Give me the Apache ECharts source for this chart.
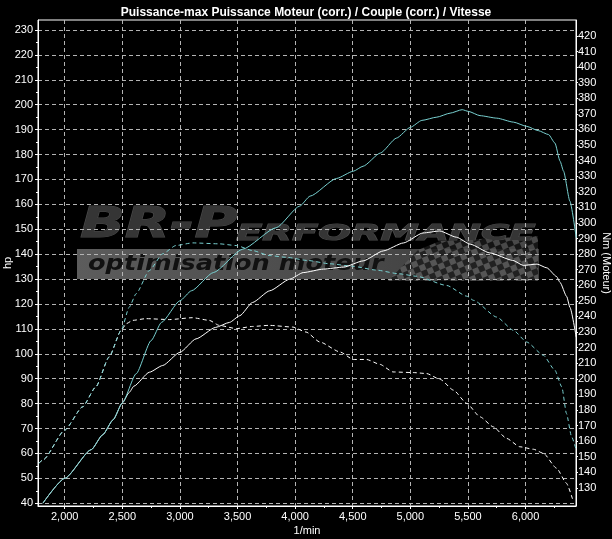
<!DOCTYPE html>
<html>
<head>
<meta charset="utf-8">
<script src="https://cdn.jsdelivr.net/npm/echarts@6/dist/echarts.min.js"></script>
<style>
  html, body { margin: 0; background: #000; }
  #chart { width: 612px; height: 539px; }
</style>
</head>
<body>
<div id="chart"></div>
<script>
// Tuned power (hp, left axis)
const powerTunedRpm = [1810, 2000, 2230, 2330, 2420, 2500, 2620, 2750, 2840, 3000, 3100, 3290, 3545, 3835, 4040, 4130, 4360, 4505, 4590, 4740, 4880, 5000, 5100, 5230, 5345, 5450, 5505, 5605, 5750, 5895, 6010, 6110, 6200, 6255, 6300, 6330, 6385, 6440];
const powerTunedHp = [40, 50, 61.5, 67.5, 73.5, 80.3, 92, 105.3, 112.6, 121.3, 125.3, 132.6, 142, 150.6, 159.3, 163.3, 170.4, 173.3, 175.3, 180.6, 186.6, 190.9, 193.7, 195, 196.6, 198, 197.3, 195.6, 194.6, 193, 191.3, 189.6, 188, 184.6, 177.3, 173.3, 161.3, 146.6];

// Stock power (hp, left axis)
const powerStockRpm = [1810, 2000, 2230, 2330, 2420, 2500, 2560, 2600, 2735, 2850, 3000, 3140, 3310, 3430, 3520, 3630, 3780, 3955, 4070, 4245, 4420, 4590, 4765, 4940, 5110, 5255, 5400, 5520, 5690, 5890, 5980, 6100, 6185, 6270, 6300, 6357, 6386, 6440];
const powerStockHp = [40, 50, 61.5, 67.5, 73.5, 80.3, 84.5, 87, 92.6, 95.3, 100.6, 106, 110.6, 112.6, 115.3, 120.6, 125.3, 130, 132.6, 134, 134.8, 137.3, 141.3, 144.5, 148.5, 149.3, 146.8, 144, 140.5, 137.5, 135.5, 136, 134.5, 131, 128.6, 123, 118.6, 106.6];

// Tuned torque (Nm, right axis)
const torqueTunedRpm = [1775, 1815, 2000, 2155, 2270, 2385, 2490, 2560, 2620, 2735, 2850, 2965, 3110, 3340, 3490, 3630, 3775, 3920, 4110, 4300, 4500, 4700, 4900, 5055, 5315, 5490, 5550, 5750, 5895, 6010, 6155, 6255, 6315, 6355, 6400, 6440];
const torqueTunedNm = [145.8, 148.2, 167.1, 182, 194.8, 214, 231.1, 246, 254.6, 269.5, 280.2, 285.5, 287.2, 286.6, 285.5, 282.3, 279.1, 278, 275.9, 273.8, 272.2, 269.8, 267.4, 265.8, 259.9, 253, 250.3, 239.6, 231.1, 223.6, 215.1, 205.5, 194.8, 177.8, 162.8, 154.3];

// Stock torque (Nm, right axis)
const torqueStockRpm = [1775, 1815, 2000, 2155, 2270, 2385, 2490, 2535, 2590, 2705, 2910, 3110, 3255, 3340, 3490, 3630, 3775, 3980, 4095, 4215, 4390, 4505, 4620, 4735, 4850, 5025, 5140, 5260, 5375, 5490, 5605, 5720, 5835, 5950, 6070, 6155, 6270, 6355, 6415];
const torqueStockNm = [145.8, 148.2, 167.1, 182, 194.8, 214, 231.1, 235.4, 237.5, 238.6, 238, 239.2, 237.5, 234.3, 232.2, 233.6, 234.3, 233.2, 230, 223.6, 217.2, 212.4, 212.4, 209.3, 204.4, 204, 203.4, 199.6, 192.7, 184.2, 175.6, 169.2, 161.8, 156.4, 154.8, 152.2, 142.6, 133, 121.2];

// Axis ticks
const rpmTicks = [2000, 2500, 3000, 3500, 4000, 4500, 5000, 5500, 6000];
const rpmMinorTicks = [2250, 2750, 3250, 3750, 4250, 4750, 5250, 5750, 6250];
const hpTicks = [40, 50, 60, 70, 80, 90, 100, 110, 120, 130, 140, 150, 160, 170, 180, 190, 200, 210, 220, 230];
const hpMinorTicks = [45, 55, 65, 75, 85, 95, 105, 115, 125, 135, 145, 155, 165, 175, 185, 195, 205, 215, 225];
const nmTicks = [130, 140, 150, 160, 170, 180, 190, 200, 210, 220, 230, 240, 250, 260, 270, 280, 290, 300, 310, 320, 330, 340, 350, 360, 370, 380, 390, 400, 410, 420];

const narrow = "'Liberation Sans Narrow', 'Liberation Sans', sans-serif";
const cyan = '#78d0d0';
const gridLine = { show: true, lineStyle: { color: '#b4b4b4', type: [4, 3], width: 1 } };

const toPairs = (xs, ys) => xs.map((x, i) => [x, ys[i]]);

// checkered flag pattern for the watermark
const checker = document.createElement('canvas');
checker.width = 12;
checker.height = 12;
const cctx = checker.getContext('2d');
cctx.fillStyle = '#5a5a5a';
cctx.fillRect(0, 0, 12, 12);
cctx.fillStyle = '#1a1a1a';
cctx.fillRect(0, 0, 6, 6);
cctx.fillRect(6, 6, 6, 6);

const chart = echarts.init(document.getElementById('chart'));

const lineSeries = (name, data, yIdx, color, dashed, z) => ({
  name: name,
  type: 'line',
  data: data,
  yAxisIndex: yIdx,
  symbol: 'none',
  smooth: 0.2,
  smoothMonotone: 'x',
  z: z,
  lineStyle: { color: color, width: 1, type: dashed ? [4, 3] : 'solid' }
});

chart.setOption({
  backgroundColor: '#000',
  animation: false,
  title: {
    text: 'Puissance-max Puissance Moteur (corr.) / Couple (corr.) / Vitesse',
    left: 'center',
    top: 2,
    textStyle: { color: '#fff', fontSize: 12, fontWeight: 'bold', fontFamily: narrow }
  },
  grid: {
    left: 38, right: 36, top: 20, bottom: 33,
    outerBoundsMode: 'none',
    containLabel: false,
    show: true, borderColor: '#fff', borderWidth: 1
  },
  xAxis: [
    {
      type: 'value',
      min: 1768,
      max: 6438,
      name: '1/min',
      nameLocation: 'middle',
      nameGap: 19,
      nameMoveOverlap: false,
      nameTextStyle: { color: '#fff', fontSize: 11, fontFamily: narrow },
      axisLine: { lineStyle: { color: '#fff' } },
      axisTick: { length: 3, lineStyle: { color: '#fff' }, customValues: rpmTicks },
      axisLabel: {
        color: '#fff', fontSize: 11, fontFamily: narrow, margin: 5,
        customValues: rpmTicks,
        formatter: (v) => v.toLocaleString('en-US')
      },
      splitLine: gridLine
    },
    {
      type: 'value',
      min: 1768,
      max: 6438,
      position: 'bottom',
      axisLine: { show: false },
      axisTick: { length: 2, lineStyle: { color: '#fff' }, customValues: rpmMinorTicks },
      axisLabel: { show: false },
      splitLine: { show: false }
    }
  ],
  yAxis: [
    {
      type: 'value',
      min: 38.9,
      max: 234,
      position: 'left',
      name: 'hp',
      nameLocation: 'middle',
      nameRotate: 90,
      nameGap: 25,
      nameMoveOverlap: false,
      nameTextStyle: { color: '#fff', fontSize: 11, fontFamily: narrow },
      axisLine: { show: true, lineStyle: { color: '#fff' } },
      axisTick: { show: true, length: 3, lineStyle: { color: '#fff' }, customValues: hpTicks },
      axisLabel: { color: '#fff', fontSize: 11, fontFamily: narrow, margin: 5, customValues: hpTicks },
      splitLine: gridLine
    },
    {
      type: 'value',
      min: 118.4,
      max: 430.2,
      position: 'right',
      name: 'Nm (Moteur)',
      nameLocation: 'middle',
      nameRotate: -90,
      nameGap: 25,
      nameMoveOverlap: false,
      nameTextStyle: { color: '#fff', fontSize: 11, fontFamily: narrow },
      axisLine: { show: true, lineStyle: { color: '#fff' } },
      axisTick: { show: true, length: 2, lineStyle: { color: '#fff' }, customValues: nmTicks },
      axisLabel: { color: '#fff', fontSize: 11, fontFamily: narrow, margin: 2, customValues: nmTicks },
      splitLine: { show: false }
    },
    {
      type: 'value',
      min: 38.9,
      max: 234,
      position: 'left',
      axisLine: { show: false },
      axisTick: { show: true, length: 2, lineStyle: { color: '#fff' }, customValues: hpMinorTicks },
      axisLabel: { show: false },
      splitLine: { show: false }
    }
  ],
  graphic: [
    {
      type: 'rect', z: -10, silent: true,
      shape: { x: 77, y: 249, width: 462, height: 30 },
      style: {
        fill: new echarts.graphic.LinearGradient(0, 0, 1, 0, [
          { offset: 0, color: '#5c5c5c' },
          { offset: 1, color: '#3c3c3c' }
        ])
      }
    },
    {
      type: 'polygon', z: -9, silent: true,
      shape: { points: [[388, 281], [418, 250], [440, 241], [538, 236], [538, 281]] },
      style: { fill: { image: checker, repeat: 'repeat', rotation: -0.4 }, opacity: 0.8 }
    },
    {
      type: 'text', z: -8, silent: true,
      x: 88, y: 265, scaleX: 1.22,
      style: {
        text: 'optimisation moteur',
        fill: '#111',
        font: 'italic bold 21px "DejaVu Sans", sans-serif',
        textVerticalAlign: 'middle'
      }
    },
    {
      type: 'text', z: -8, silent: true,
      x: 80, y: 247, scaleX: 1.4,
      style: {
        text: 'BR-P',
        fill: '#353535',
        stroke: '#4a4a4a',
        lineWidth: 1,
        font: 'italic bold 42px "DejaVu Sans", sans-serif',
        textVerticalAlign: 'bottom'
      }
    },
    {
      type: 'text', z: -8, silent: true,
      x: 236, y: 245, scaleX: 1.75,
      style: {
        text: 'ERFORMANCE',
        fill: '#353535',
        stroke: '#4a4a4a',
        lineWidth: 1,
        font: 'italic bold 22px "DejaVu Sans", sans-serif',
        textVerticalAlign: 'bottom'
      }
    }
  ],
  series: [
    lineSeries('Couple (corr.) origine', toPairs(torqueStockRpm, torqueStockNm), 1, '#ffffff', true, 3),
    lineSeries('Couple (corr.)', toPairs(torqueTunedRpm, torqueTunedNm), 1, cyan, true, 3),
    lineSeries('Puissance Moteur (corr.) origine', toPairs(powerStockRpm, powerStockHp), 0, '#ffffff', false, 4),
    lineSeries('Puissance Moteur (corr.)', toPairs(powerTunedRpm, powerTunedHp), 0, cyan, false, 5)
  ]
});

window.addEventListener('resize', () => chart.resize());
</script>
</body>
</html>
